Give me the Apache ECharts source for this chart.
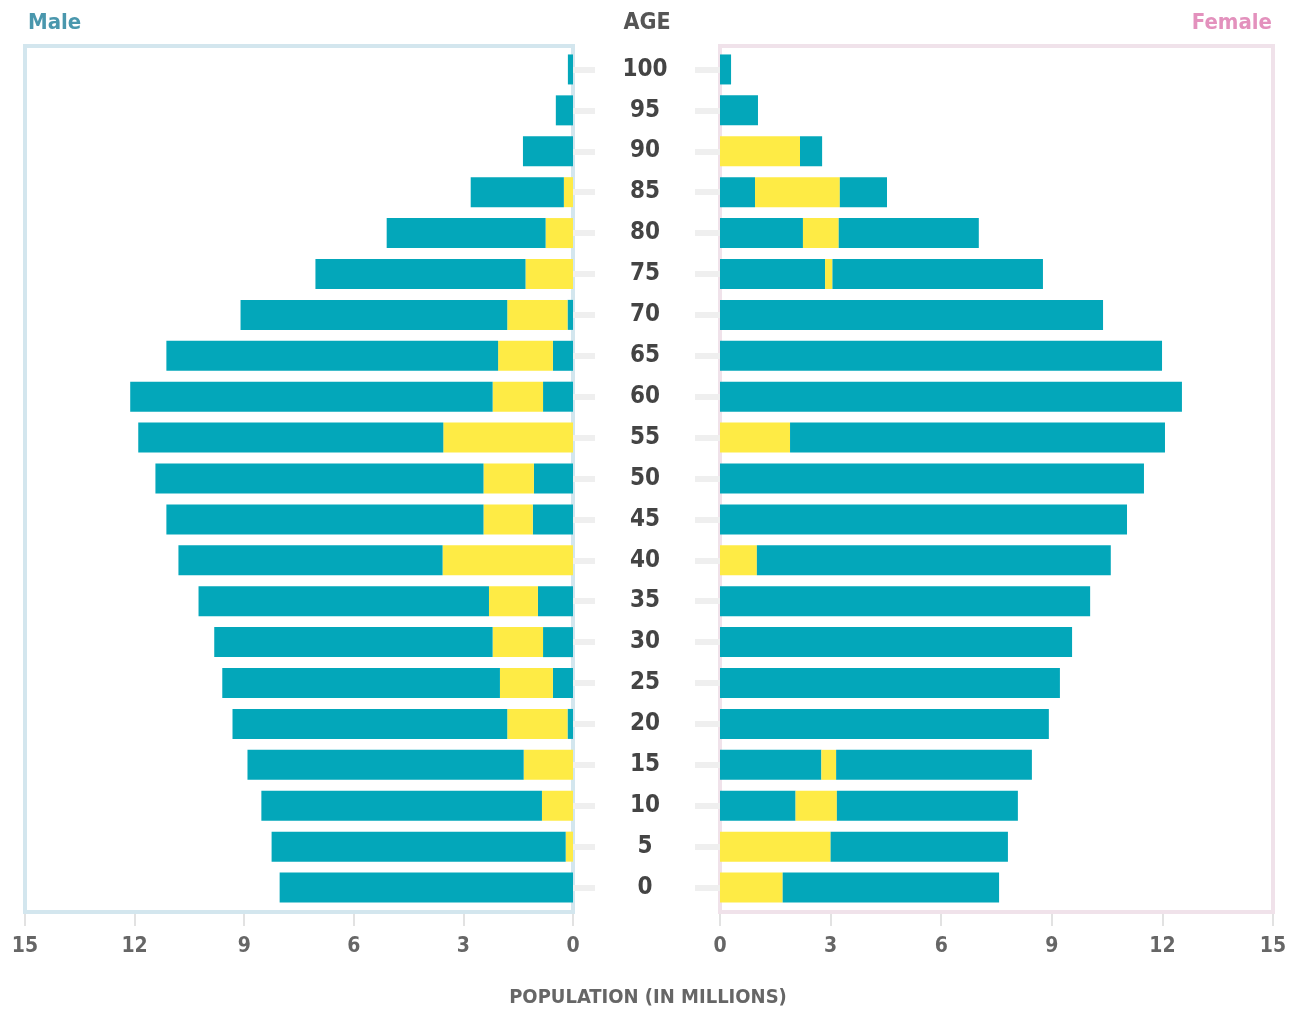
<!DOCTYPE html>
<html>
<head>
<meta charset="utf-8">
<script src="https://cdn.jsdelivr.net/npm/echarts@6/dist/echarts.min.js"></script>
<style>html,body{margin:0;padding:0;background:#fff}#c{width:1299px;height:1014px}</style>
</head>
<body>
<div id="c"></div>
<script>
// Age groups, bottom (0) to top (100)
const ages = ['0','5','10','15','20','25','30','35','40','45','50','55','60','65','70','75','80','85','90','95','100'];
const xTicks = [0, 3, 6, 9, 12, 15];

// Male population (millions)
const maleTotal = [8.03, 8.25, 8.53, 8.91, 9.32, 9.6, 9.82, 10.25, 10.8, 11.13, 11.43, 11.9, 12.12, 11.13, 9.1, 7.05, 5.1, 2.8, 1.37, 0.47, 0.14];
// Yellow overlay band on male bars (start / end, millions from 0)
const maleYellowFrom = [0, 0, 0, 0, 0.15, 0.55, 0.82, 0.96, 0, 1.1, 1.07, 0, 0.82, 0.55, 0.15, 0, 0, 0, 0, 0, 0];
const maleYellowTo   = [0, 0.2, 0.85, 1.35, 1.8, 2.0, 2.2, 2.3, 3.57, 2.45, 2.45, 3.55, 2.2, 2.05, 1.8, 1.3, 0.75, 0.25, 0, 0, 0];

// Female population (millions)
const femaleTotal = [7.57, 7.81, 8.08, 8.46, 8.92, 9.22, 9.55, 10.04, 10.6, 11.04, 11.5, 12.07, 12.53, 11.99, 10.39, 8.76, 7.02, 4.53, 2.77, 1.03, 0.3];
const femaleYellowFrom = [0, 0, 2.05, 2.75, 0, 0, 0, 0, 0, 0, 0, 0, 0, 0, 0, 2.85, 2.25, 0.95, 0, 0, 0];
const femaleYellowTo   = [1.7, 3.0, 3.17, 3.15, 0, 0, 0, 0, 1.0, 0, 0, 1.9, 0, 0, 0, 3.05, 3.22, 3.25, 2.17, 0, 0];

const TEAL = '#03a7ba';
const YELLOW = '#feeb45';
const FONT = "'Liberation Sans Narrow', 'DejaVu Sans Condensed', 'Roboto', sans-serif";

const inner = (from) => from.map(v => v);
const band = (from, to) => to.map((v, i) => Math.max(0, v - from[i]));
const outer = (total, from, to) => total.map((v, i) => v - Math.max(from[i], to[i]));

const chart = echarts.init(document.getElementById('c'));

const xAxisCommon = {
  type: 'value', min: 0, max: 15, interval: 3,
  offset: 6,
  axisLine: { show: false },
  axisTick: { show: true, length: 12, lineStyle: { color: '#e2e2e2', width: 2 } },
  axisLabel: { margin: 22, color: '#666', fontFamily: FONT, fontSize: 21, fontWeight: 'bold',
    formatter: v => xTicks.includes(v) ? String(v) : '' },
  splitLine: { show: false }
};

const barCommon = { type: 'bar', barWidth: 30, z: 3, silent: true };

chart.setOption({
  animation: false,
  graphic: [
    { type: 'rect', z: 0, shape: { x: 25, y: 46, width: 548, height: 866 },
      style: { fill: 'none', stroke: '#d3e6ee', lineWidth: 4 } },
    { type: 'rect', z: 0, shape: { x: 720, y: 46, width: 553, height: 866 },
      style: { fill: 'none', stroke: '#f0e2ea', lineWidth: 4 } },
    { type: 'text', z: 5, x: 28, y: 23,
      style: { text: 'Male', fill: '#4a97ad', font: 'bold 22px ' + FONT, verticalAlign: 'middle', align: 'left' } },
    { type: 'text', z: 5, x: 1272, y: 23,
      style: { text: 'Female', fill: '#e391bd', font: 'bold 22px ' + FONT, verticalAlign: 'middle', align: 'right' } },
    { type: 'text', z: 5, x: 647, y: 23,
      style: { text: 'AGE', fill: '#555', font: 'bold 23px ' + FONT, verticalAlign: 'middle', align: 'center' } },
    { type: 'text', z: 5, x: 648, y: 998,
      style: { text: 'POPULATION (IN MILLIONS)', fill: '#666', font: 'bold 20px ' + FONT, verticalAlign: 'middle', align: 'center' } }
  ],
  grid: [
    { left: 25, right: 1299 - 573, top: 49, bottom: 1014 - 908 },
    { left: 720, right: 1299 - 1273, top: 49, bottom: 1014 - 908 }
  ],
  xAxis: [
    Object.assign({ gridIndex: 0, inverse: true }, xAxisCommon),
    Object.assign({ gridIndex: 1 }, xAxisCommon)
  ],
  yAxis: [
    { gridIndex: 0, type: 'category', data: ages, position: 'right',
      axisLine: { show: false },
      axisTick: { show: true, alignWithLabel: true, length: 22, lineStyle: { color: '#efefef', width: 6 } },
      axisLabel: { margin: 72, align: 'center', color: '#444', fontFamily: FONT, fontSize: 24, fontWeight: 'bold' } },
    { gridIndex: 1, type: 'category', data: ages, position: 'left',
      axisLine: { show: false },
      axisTick: { show: true, alignWithLabel: true, length: 25, lineStyle: { color: '#efefef', width: 6 } },
      axisLabel: { show: false } }
  ],
  series: [
    Object.assign({ name: 'Male inner', xAxisIndex: 0, yAxisIndex: 0, stack: 'm',
      data: inner(maleYellowFrom), itemStyle: { color: TEAL } }, barCommon),
    Object.assign({ name: 'Male band', xAxisIndex: 0, yAxisIndex: 0, stack: 'm',
      data: band(maleYellowFrom, maleYellowTo), itemStyle: { color: YELLOW } }, barCommon),
    Object.assign({ name: 'Male outer', xAxisIndex: 0, yAxisIndex: 0, stack: 'm',
      data: outer(maleTotal, maleYellowFrom, maleYellowTo), itemStyle: { color: TEAL } }, barCommon),
    Object.assign({ name: 'Female inner', xAxisIndex: 1, yAxisIndex: 1, stack: 'f',
      data: inner(femaleYellowFrom), itemStyle: { color: TEAL } }, barCommon),
    Object.assign({ name: 'Female band', xAxisIndex: 1, yAxisIndex: 1, stack: 'f',
      data: band(femaleYellowFrom, femaleYellowTo), itemStyle: { color: YELLOW } }, barCommon),
    Object.assign({ name: 'Female outer', xAxisIndex: 1, yAxisIndex: 1, stack: 'f',
      data: outer(femaleTotal, femaleYellowFrom, femaleYellowTo), itemStyle: { color: TEAL } }, barCommon)
  ]
});
</script>
</body>
</html>
